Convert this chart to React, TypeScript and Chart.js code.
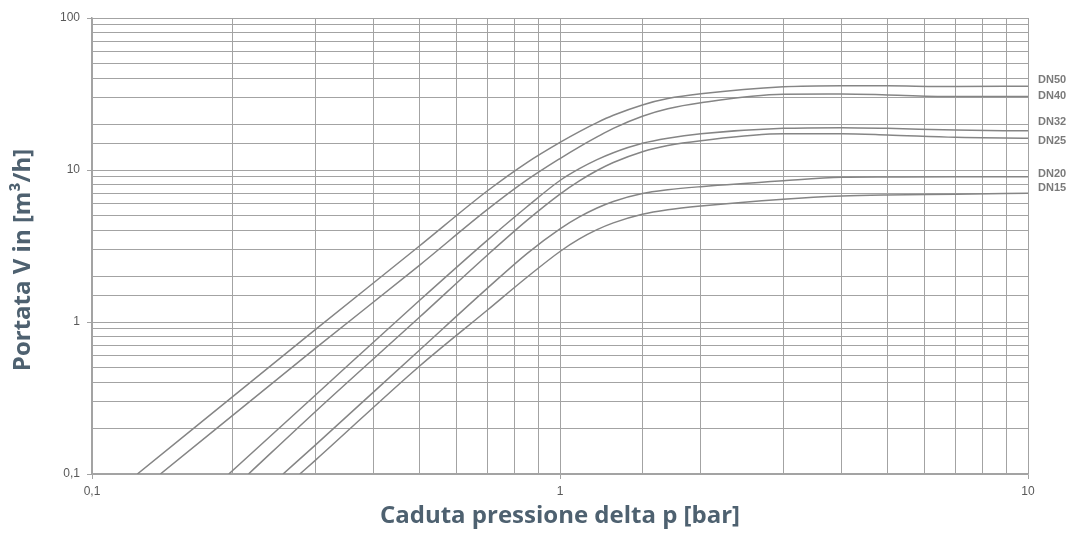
import React, { useEffect, useRef } from "react";
import { Chart, registerables } from "chart.js";

Chart.register(...registerables);

// ---- data ----
const seriesNames = ["DN50", "DN40", "DN32", "DN25", "DN20", "DN15"];

const dn50X = [0.125, 0.3, 0.5, 0.7, 0.85, 1, 1.1, 1.2, 1.3, 1.5, 1.7, 2, 3, 4, 5, 7, 10];
const dn50Y = [0.1, 0.89, 3.15, 7.3, 11.2, 15.2, 17.9, 20.5, 22.9, 26.8, 29.5, 31.7, 35.3, 35.9, 35.8, 35.4, 35.6];

const dn40X = [0.14, 0.3, 0.5, 0.7, 0.85, 1, 1.1, 1.2, 1.3, 1.5, 1.7, 2, 3, 4, 5, 7, 10];
const dn40Y = [0.1, 0.67, 2.35, 5.5, 8.6, 11.9, 14.2, 16.5, 18.8, 22.6, 25.3, 27.7, 31.5, 31.6, 31.2, 30.4, 30.4];

const dn32X = [0.196, 0.3, 0.5, 0.7, 0.85, 1, 1.1, 1.2, 1.3, 1.5, 1.7, 2, 3, 4, 5, 7, 10];
const dn32Y = [0.1, 0.33, 1.38, 3.46, 5.73, 8.53, 10.2, 11.7, 13.0, 15.0, 16.2, 17.3, 18.8, 19.0, 18.8, 18.3, 18.1];

const dn25X = [0.216, 0.3, 0.5, 0.7, 0.85, 1, 1.1, 1.2, 1.3, 1.5, 1.7, 2, 3, 4, 5, 7, 10];
const dn25Y = [0.1, 0.257, 1.07, 2.76, 4.66, 6.94, 8.48, 9.92, 11.2, 13.2, 14.5, 15.6, 17.3, 17.3, 17.0, 16.4, 16.2];

const dn20X = [0.256, 0.3, 0.5, 0.7, 0.85, 1, 1.1, 1.2, 1.3, 1.5, 1.7, 2, 3, 4, 5, 7, 10];
const dn20Y = [0.1, 0.155, 0.65, 1.67, 2.82, 4.1, 4.91, 5.62, 6.21, 7.0, 7.41, 7.77, 8.5, 8.95, 9.0, 9.03, 9.03];

const dn15X = [0.278, 0.3, 0.5, 0.7, 0.85, 1, 1.1, 1.2, 1.3, 1.5, 1.7, 2, 3, 4, 5, 7, 10];
const dn15Y = [0.1, 0.123, 0.51, 1.2, 1.97, 2.91, 3.52, 4.05, 4.49, 5.11, 5.47, 5.79, 6.42, 6.74, 6.85, 6.92, 7.03];

// value on the y axis where each series name is written at the right edge
const labelAnchors = [39.1, 30.7, 20.6, 15.6, 9.4, 7.6];

const xRange = [0.1, 10];
const yRange = [0.1, 100];

const xTitle = "Caduta pressione delta p [bar]";
const yTitle = "Portata V in [m³/h]";

const seriesX = [dn50X, dn40X, dn32X, dn25X, dn20X, dn15X];
const seriesY = [dn50Y, dn40Y, dn32Y, dn25Y, dn20Y, dn15Y];

const isPow10 = (v: number) => {
  const l = Math.log10(v);
  return Math.abs(l - Math.round(l)) < 1e-9;
};
const fmt = (v: number) => {
  const r = Math.round(v * 1000) / 1000;
  return String(r).replace(".", ",");
};

const GRID = "#a3a3a3";
const LINE = "#858585";
const TITLE = "#4e6170";

const overlayPlugin = {
  id: "overlay",
  afterDatasetsDraw(chart: any) {
    const { ctx, chartArea, scales } = chart;
    ctx.save();
    // series names at right
    ctx.font = "bold 11px 'Liberation Sans', Arial, sans-serif";
    ctx.fillStyle = "#7a7a7a";
    ctx.textAlign = "left";
    ctx.textBaseline = "middle";
    seriesNames.forEach((n, i) => {
      const y = scales.y.getPixelForValue(labelAnchors[i]);
      ctx.fillText(n, chartArea.right + 10, y);
    });
    // axis titles
    ctx.font = "bold 24px 'Open Sans', sans-serif";
    ctx.fillStyle = TITLE;
    ctx.textAlign = "center";
    ctx.textBaseline = "middle";
    ctx.fillText(xTitle, (chartArea.left + chartArea.right) / 2, chartArea.bottom + 42);
    ctx.translate(23, (chartArea.top + chartArea.bottom) / 2 + 14);
    ctx.rotate(-Math.PI / 2);
    ctx.fillText(yTitle, 0, 0);
    ctx.restore();
  },
};

export default function App() {
  const ref = useRef<HTMLCanvasElement>(null);

  useEffect(() => {
    document.body.style.margin = "0";
    const canvas = ref.current;
    if (!canvas) return;
    const datasets = seriesNames.map((name, i) => ({
      label: name,
      data: seriesX[i].map((x, j) => ({ x, y: seriesY[i][j] })),
      borderColor: LINE,
      borderWidth: 1.5,
      pointRadius: 0,
      fill: false,
      cubicInterpolationMode: "monotone" as const,
    }));

    const tickColor = (c: any) =>
      c.tick && isPow10(c.tick.value) ? GRID : "rgba(0,0,0,0)";

    const chart = new Chart(canvas, {
      type: "line",
      data: { datasets },
      plugins: [overlayPlugin],
      options: {
        animation: false,
        responsive: false,
        devicePixelRatio: 1,
        layout: { padding: { top: 18, right: 42, left: 0, bottom: 0 } },
        plugins: { legend: { display: false }, tooltip: { enabled: false } },
        scales: {
          x: {
            type: "logarithmic",
            min: xRange[0],
            max: xRange[1],
            grid: { color: GRID, lineWidth: 1, tickLength: 5, tickColor },
            border: { color: GRID, width: 1.5 },
            ticks: {
              autoSkip: false,
              maxRotation: 0,
              padding: 5,
              color: "#595959",
              font: { family: "'Liberation Sans', Arial, sans-serif", size: 12 },
              callback: (v: any) => (isPow10(Number(v)) ? fmt(Number(v)) : ""),
            },
            afterFit: (s: any) => {
              s.height = 59;
            },
          },
          y: {
            type: "logarithmic",
            min: yRange[0],
            max: yRange[1],
            grid: { color: GRID, lineWidth: 1, tickLength: 5, tickColor },
            border: { color: GRID, width: 1.5 },
            ticks: {
              autoSkip: false,
              padding: 7,
              color: "#595959",
              font: { family: "'Liberation Sans', Arial, sans-serif", size: 12 },
              callback: (v: any) => (isPow10(Number(v)) ? fmt(Number(v)) : ""),
            },
            afterFit: (s: any) => {
              s.width = 92;
            },
          },
        },
      } as any,
    });
    return () => chart.destroy();
  }, []);

  return (
    <div style={{ width: 1070, height: 533, background: "#fff" }}>
      <canvas ref={ref} width={1070} height={533} />
    </div>
  );
}
